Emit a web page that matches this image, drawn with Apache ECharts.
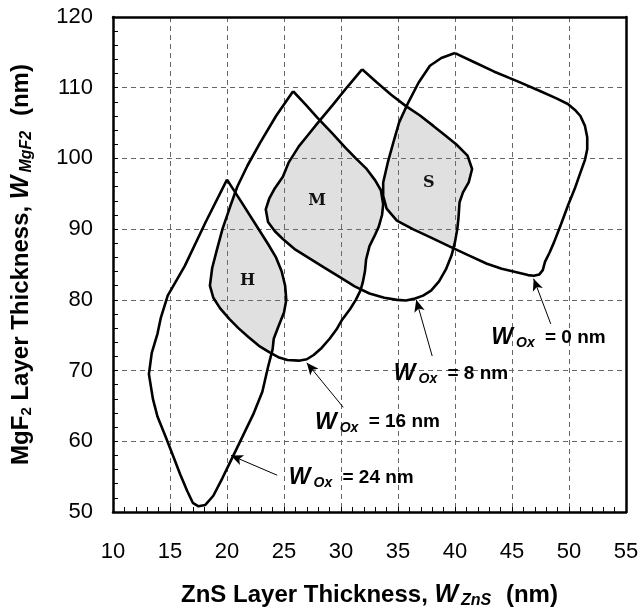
<!DOCTYPE html>
<html>
<head>
<meta charset="utf-8">
<script src="https://cdn.jsdelivr.net/npm/echarts@6/dist/echarts.min.js"></script>
<style>
    html, body { margin: 0; padding: 0; background: #fff; }
    #main { width: 642px; height: 608px; }
</style>
</head>
<body>
<div id="main"></div>
<script>
// contours, [ZnS nm, MgF2 nm], closed (last point = first)
var w0 = [[40.0,114.9],[38.8,114.2],[37.8,113.1],[36.8,110.7],[35.9,107.9],[35.1,105.1],[34.6,102.3],[34.1,99.4],
    [33.7,96.6],[33.7,94.7],[34.0,92.9],[34.9,91.2],[36.3,90.0],[37.9,88.8],[39.6,87.5],[41.2,86.3],[42.8,85.1],
    [44.1,84.4],[45.4,83.9],[46.4,83.5],[46.9,83.4],[47.4,83.6],[47.7,84.2],[47.9,85.4],[48.3,86.7],[48.7,88.2],
    [49.3,90.7],[49.9,93.3],[50.5,95.7],[51.0,98.0],[51.4,99.8],[51.6,101.3],[51.6,103.0],[51.4,104.6],[51.0,106.0],
    [50.5,106.9],[49.9,107.7],[48.9,108.5],[47.5,109.5],[45.5,110.9],[43.4,112.3],[41.7,113.6],[40.0,114.9]];
var w8 = [[31.85,112.6],[30.6,110.2],[29.3,107.6],[28.0,105.1],[27.0,103.1],[26.3,101.7],[25.4,99.4],[24.9,97.4],
    [24.2,95.8],[23.7,94.3],[23.4,92.8],[23.6,91.0],[24.2,89.7],[24.9,88.6],[26.0,87.1],[27.2,85.9],[28.5,84.6],
    [29.9,83.2],[31.2,81.9],[32.5,80.9],[33.8,80.3],[34.9,80.0],[35.7,79.9],[36.5,80.2],[37.2,80.6],[37.9,81.3],
    [38.6,82.6],[39.2,84.3],[39.7,86.3],[40.0,88.2],[40.2,90.0],[40.3,91.5],[40.4,93.8],[40.7,95.2],[41.2,96.6],
    [41.5,98.5],[41.1,100.4],[40.1,102.0],[39.1,103.3],[38.1,104.6],[36.9,106.1],[35.7,107.4],[34.4,109.0],
    [33.1,110.8],[31.85,112.6]];
var w16 = [[25.8,109.5],[24.3,106.0],[22.9,102.2],[21.8,99.0],[20.9,96.0],[20.3,93.3],[19.6,90.0],[19.1,87.0],
    [18.7,84.5],[18.5,82.0],[18.8,80.3],[19.4,78.8],[20.2,77.3],[21.0,76.0],[21.9,74.7],[22.8,73.5],[23.7,72.6],
    [24.5,71.9],[25.3,71.5],[26.3,71.4],[27.0,71.6],[27.6,72.2],[28.3,73.2],[29.0,74.5],[29.6,75.8],[30.1,77.2],
    [30.8,78.7],[31.3,80.0],[31.7,81.3],[31.9,82.4],[32.1,84.0],[32.2,85.7],[32.5,87.6],[32.9,88.9],[33.3,90.3],
    [33.6,92.0],[33.7,93.5],[33.5,95.5],[33.0,96.9],[32.2,98.6],[31.3,100.0],[30.4,101.5],[29.2,103.6],
    [27.9,105.8],[26.9,107.6],[25.8,109.5]];
var w24 = [[20.0,97.0],[21.2,94.0],[22.5,90.7],[23.6,87.9],[24.3,86.0],[24.8,84.0],[25.1,82.0],[25.2,80.0],
    [25.0,78.2],[24.5,76.2],[24.1,74.5],[24.0,73.0],[23.6,70.5],[23.1,67.0],[22.3,63.8],[21.4,60.8],[20.5,57.8],
    [19.6,54.8],[18.8,52.3],[18.1,51.0],[17.5,50.8],[17.0,51.3],[16.5,53.0],[15.9,55.3],[15.3,57.8],[14.6,60.7],
    [13.9,63.5],[13.5,66.0],[13.15,69.5],[13.4,72.5],[13.9,75.2],[14.2,77.5],[14.8,80.6],[16.3,84.8],[18.1,90.9],
    [20.0,97.0]];

var regionNames = ['H', 'M', 'S'];
var regionPos = [[21.8, 82.7], [27.9, 94.0], [37.7, 96.6]];

var noteValues = ['0', '8', '16', '24'];
var notePos = [[48.2, 74.7], [39.65, 69.5], [33.2, 62.7], [30.9, 54.9]];
var arrowFrom = [[48.4, 76.6], [38.0, 72.05], [30.2, 64.8], [24.4, 55.2]];
var arrowTo = [[46.9, 83.0], [36.6, 80.0], [27.0, 71.1], [20.35, 58.0]];

var xMin = 10, xMax = 55, xStep = 5;
var yMin = 50, yMax = 120, yStep = 10;

// overlap of two closed outlines (they cross twice)
function segX(a, b, c, d) {
    var rx = b[0] - a[0], ry = b[1] - a[1], sx = d[0] - c[0], sy = d[1] - c[1];
    var den = rx * sy - ry * sx;
    if (!den) return null;
    var t = ((c[0] - a[0]) * sy - (c[1] - a[1]) * sx) / den;
    var u = ((c[0] - a[0]) * ry - (c[1] - a[1]) * rx) / den;
    return (t >= 0 && t < 1 && u >= 0 && u < 1) ? [t, u] : null;
}
function inside(p, poly) {
    var c = false;
    for (var i = 0, j = poly.length - 2; i < poly.length - 1; j = i++) {
        var a = poly[i], b = poly[j];
        if ((a[1] > p[1]) !== (b[1] > p[1]) &&
            p[0] < (b[0] - a[0]) * (p[1] - a[1]) / (b[1] - a[1]) + a[0]) c = !c;
    }
    return c;
}
function arc(P, s, e) {
    var n = P.length - 1;
    if (s.i === e.i && e.t > s.t) return [s.p, e.p];
    var out = [s.p], k = (s.i + 1) % n;
    while (true) {
        out.push(P[k]);
        if (k === e.i) break;
        k = (k + 1) % n;
    }
    out.push(e.p);
    return out;
}
function mid(a) {
    if (a.length === 2) return [(a[0][0] + a[1][0]) / 2, (a[0][1] + a[1][1]) / 2];
    return a[Math.floor(a.length / 2)];
}
function overlap(A, B) {
    var hits = [];
    for (var i = 0; i < A.length - 1; i++) {
        for (var j = 0; j < B.length - 1; j++) {
            var r = segX(A[i], A[i + 1], B[j], B[j + 1]);
            if (r) hits.push({
                ia: i, ta: r[0], ib: j, tb: r[1],
                p: [A[i][0] + r[0] * (A[i + 1][0] - A[i][0]), A[i][1] + r[0] * (A[i + 1][1] - A[i][1])]
            });
        }
    }
    var h1 = hits[0], h2 = hits[1];
    var a = arc(A, {i: h1.ia, t: h1.ta, p: h1.p}, {i: h2.ia, t: h2.ta, p: h2.p});
    var hs = h1, he = h2;
    if (!inside(mid(a), B)) {
        a = arc(A, {i: h2.ia, t: h2.ta, p: h2.p}, {i: h1.ia, t: h1.ta, p: h1.p});
        hs = h2; he = h1;
    }
    var b = arc(B, {i: he.ib, t: he.tb, p: he.p}, {i: hs.ib, t: hs.tb, p: hs.p});
    if (!inside(mid(b), A)) {
        b = arc(B, {i: hs.ib, t: hs.tb, p: hs.p}, {i: he.ib, t: he.tb, p: he.p}).reverse();
    }
    return a.concat(b.slice(1, b.length - 1));
}

var regions = [overlap(w16, w24), overlap(w16, w8), overlap(w8, w0)];

var FONT = 'Liberation Sans, Arial, sans-serif';
var dash = {type: [5, 4], color: '#666', width: 1};

function curve(name, data) {
    return {
        name: name, type: 'line', data: data, symbol: 'none', smooth: false,
        lineStyle: {color: '#000', width: 2.6}, z: 5, silent: true
    };
}

var titleRich = {
    sub: {color: '#000', fontSize: 15, fontWeight: 'bold', fontFamily: FONT, padding: [10, 0, 0, 0]},
    w: {color: '#000', fontSize: 25, fontWeight: 'bold', fontStyle: 'italic', fontFamily: FONT},
    s: {color: '#000', fontSize: 16, fontWeight: 'bold', fontStyle: 'italic', fontFamily: FONT, padding: [11, 8, 0, 3]}
};

var myChart = echarts.init(document.getElementById('main'));
var option = {
    animation: false,
    backgroundColor: '#fff',
    grid: {left: 113, top: 17, right: 16, bottom: 96, containLabel: false, outerBoundsMode: 'none'},
    xAxis: [{
        type: 'value', min: xMin, max: xMax, interval: xStep, position: 'bottom',
        axisLine: {lineStyle: {color: '#000', width: 2.5}},
        axisTick: {inside: true, length: 5, lineStyle: {color: '#000'}},
        minorTick: {show: true, splitNumber: 5, length: 5, lineStyle: {color: '#000'}},
        splitLine: {lineStyle: dash},
        axisLabel: {color: '#000', fontSize: 22, fontFamily: FONT, margin: 29},
        name: 'ZnS Layer Thickness, {w|W}{s|ZnS} (nm)',
        nameLocation: 'middle', nameGap: 70,
        nameTextStyle: {color: '#000', fontSize: 24, fontWeight: 'bold', fontFamily: FONT, rich: titleRich}
    }, {
        type: 'value', min: xMin, max: xMax, position: 'top',
        axisLine: {lineStyle: {color: '#000', width: 2.5}},
        axisTick: {show: false}, axisLabel: {show: false}, splitLine: {show: false}
    }],
    yAxis: [{
        type: 'value', min: yMin, max: yMax, interval: yStep, position: 'left',
        axisLine: {lineStyle: {color: '#000', width: 2.5}},
        axisTick: {inside: true, length: 5, lineStyle: {color: '#000'}},
        minorTick: {show: true, splitNumber: 5, length: 5, lineStyle: {color: '#000'}},
        splitLine: {lineStyle: dash},
        axisLabel: {color: '#000', fontSize: 22, fontFamily: FONT, margin: 20, padding: [6, 0, 0, 0]},
        name: 'MgF{sub|2} Layer Thickness, {w|W}{s|MgF2} (nm)',
        nameLocation: 'middle', nameGap: 78,
        nameTextStyle: {color: '#000', fontSize: 24, fontWeight: 'bold', fontFamily: FONT, rich: titleRich}
    }, {
        type: 'value', min: yMin, max: yMax, position: 'right',
        axisLine: {lineStyle: {color: '#000', width: 2.5}},
        axisTick: {show: false}, axisLabel: {show: false}, splitLine: {show: false}
    }],
    series: [
        {
            name: 'shade', type: 'custom', z: 3, silent: true,
            data: regionPos,
            renderItem: function (params, api) {
                var k = params.dataIndex;
                var pts = regions[k].map(function (p) { return api.coord(p); });
                var c = api.coord(regionPos[k]);
                return {
                    type: 'group',
                    children: [{
                        type: 'polygon', shape: {points: pts},
                        style: {fill: 'rgba(125,125,125,0.24)', stroke: null}
                    }, {
                        type: 'text', z2: 10,
                        style: {
                            text: regionNames[k], x: c[0], y: c[1], fill: '#111',
                            font: 'bold 16px "DejaVu Serif", serif',
                            align: 'center', verticalAlign: 'middle'
                        }
                    }]
                };
            }
        },
        curve('W0', w0),
        curve('W8', w8),
        curve('W16', w16),
        curve('W24', w24),
        {
            name: 'notes', type: 'scatter', symbolSize: 0, z: 6, silent: true,
            itemStyle: {opacity: 1},
            data: notePos,
            label: {
                show: true, position: 'inside', color: '#000', opacity: 1,
                formatter: function (p) { return '{w|W}{s|Ox}{t| = ' + noteValues[p.dataIndex] + ' nm}'; },
                rich: {
                    w: {color: '#000', fontSize: 23, fontWeight: 'bold', fontStyle: 'italic', fontFamily: FONT},
                    s: {color: '#000', fontSize: 14, fontWeight: 'bold', fontStyle: 'italic', fontFamily: FONT, padding: [11, 5, 0, 3]},
                    t: {color: '#000', fontSize: 19, fontWeight: 'bold', fontFamily: FONT}
                }
            },
            markLine: {
                silent: true, animation: false,
                symbol: ['none', 'arrow'], symbolSize: [8, 12],
                label: {show: false},
                lineStyle: {color: '#000', width: 1, type: 'solid', opacity: 1},
                data: arrowFrom.map(function (p, i) { return [{coord: p}, {coord: arrowTo[i]}]; })
            }
        }
    ]
};
myChart.setOption(option);
</script>
</body>
</html>
